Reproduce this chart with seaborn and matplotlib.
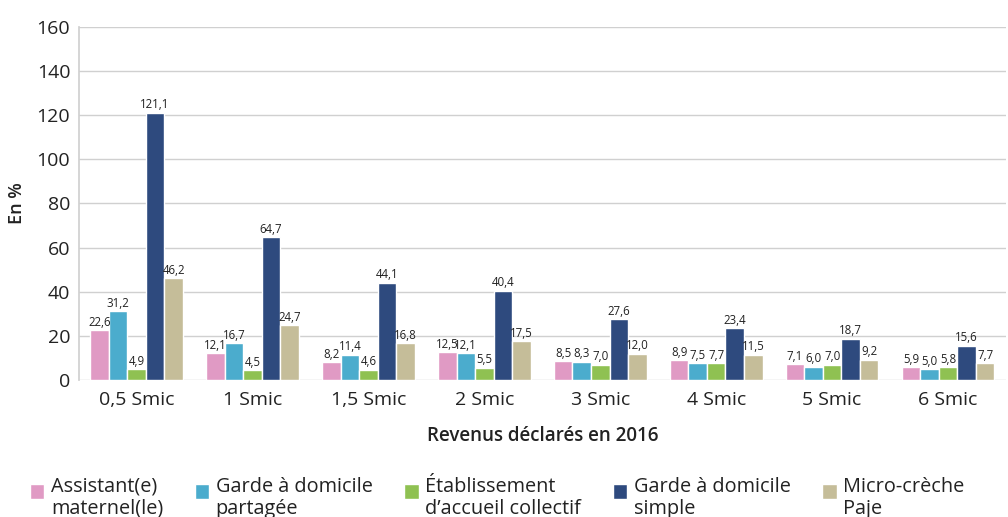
import numpy as np
import pandas as pd
import seaborn as sns
import matplotlib.pyplot as plt
from matplotlib.patches import Rectangle
from matplotlib.legend_handler import HandlerPatch

categories = ['0,5 Smic', '1 Smic', '1,5 Smic', '2 Smic', '3 Smic', '4 Smic', '5 Smic', '6 Smic']
series = ['Assistant(e)\nmaternel(le)', 'Garde à domicile\npartagée',
          'Établissement\nd’accueil collectif', 'Garde à domicile\nsimple', 'Micro-crèche\nPaje']
assistante = [22.6, 12.1, 8.2, 12.5, 8.5, 8.9, 7.1, 5.9]
garde_partagee = [31.2, 16.7, 11.4, 12.1, 8.3, 7.5, 6.0, 5.0]
eaje = [4.9, 4.5, 4.6, 5.5, 7.0, 7.7, 7.0, 5.8]
garde_simple = [121.1, 64.7, 44.1, 40.4, 27.6, 23.4, 18.7, 15.6]
micro_creche = [46.2, 24.7, 16.8, 17.5, 12.0, 11.5, 9.2, 7.7]
colors = ['#E09AC4', '#4BACCD', '#8FC152', '#2E4A7E', '#C5BD99']

rows = []
for name, vals in zip(series, [assistante, garde_partagee, eaje, garde_simple, micro_creche]):
    for c, v in zip(categories, vals):
        rows.append({'revenu': c, 'mode': name, 'valeur': v})
df = pd.DataFrame(rows)

sns.set_theme(style='white')
plt.rcParams['font.family'] = ['Open Sans', 'DejaVu Sans']

fig = plt.figure(figsize=(10.08, 5.17), dpi=100)
ax = fig.add_axes([0.078, 0.265, 0.92, 0.683])

sns.barplot(data=df, x='revenu', y='valeur', hue='mode', palette=colors,
            width=0.8, saturation=1, ax=ax, legend=True)

for cont in ax.containers:
    labels = [('%.1f' % b.get_height()).replace('.', ',') for b in cont]
    ax.bar_label(cont, labels=labels, padding=1, fontsize=8.3, color='#222222')

ax.set_ylim(0, 160)
ax.set_xlim(-0.5, 7.5)
ax.set_yticks(np.arange(0, 161, 20))
ax.yaxis.grid(True, color='#d0d0d0', linewidth=1)
ax.set_axisbelow(True)
for s in ['top', 'right', 'bottom']:
    ax.spines[s].set_visible(False)
ax.spines['left'].set_color('#d0d0d0')
ax.tick_params(axis='y', length=0, pad=6, labelsize=14, labelcolor='#222222')
ax.tick_params(axis='x', length=0, pad=8, labelsize=14, labelcolor='#222222')
ax.set_ylabel('En %', fontsize=13, fontweight='semibold', color='#222222', labelpad=8)
ax.set_xlabel('Revenus déclarés en 2016', fontsize=13.5, fontweight='semibold',
              color='#222222', labelpad=12)


def top_square(legend, orig_handle, xdescent, ydescent, width, height, fontsize):
    sq = 0.72 * fontsize
    return Rectangle((-xdescent, -ydescent + height - sq - 0.08 * fontsize), sq, sq)


handles, labs = ax.get_legend_handles_labels()
ax.get_legend().remove()
leg = fig.legend(handles, labs, loc='lower left', bbox_to_anchor=(0.012, -0.038), ncol=5,
                 frameon=False, fontsize=14.3, handlelength=0.75, handleheight=2.15,
                 handletextpad=0.3, columnspacing=1.6, labelcolor='#222222',
                 handler_map={Rectangle: HandlerPatch(patch_func=top_square)})
for t in leg.get_texts():
    t.set_linespacing(1.12)

fig.savefig('out.png', dpi=100)
